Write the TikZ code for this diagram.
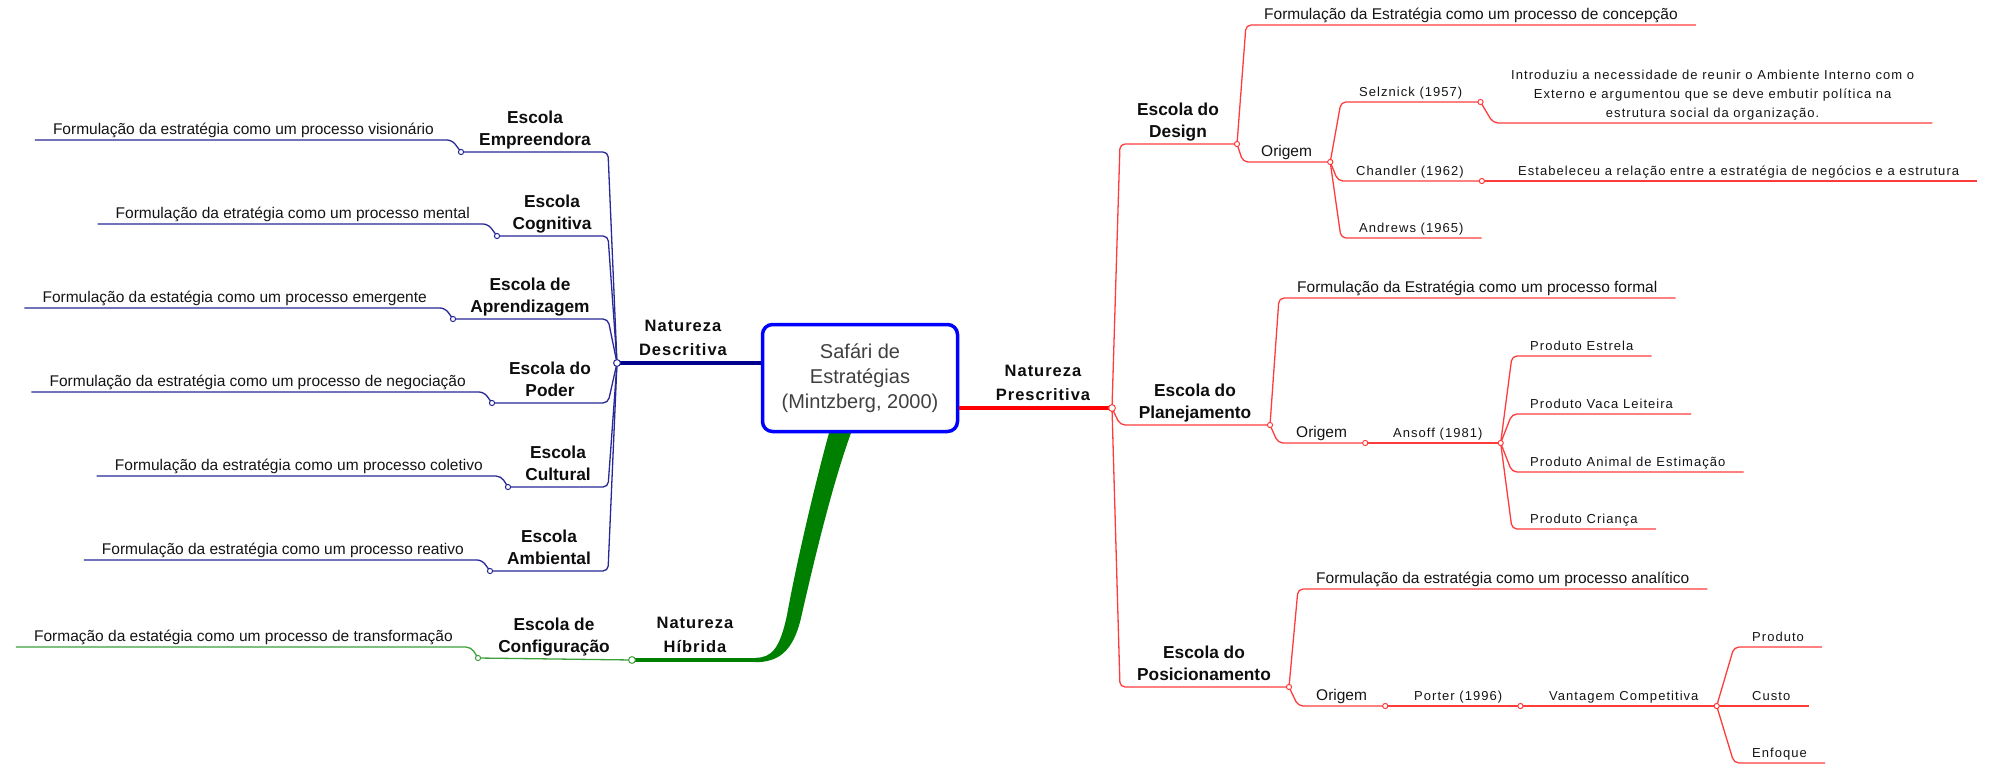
\documentclass[tikz,border=0pt]{standalone}
\usepackage{fontspec}
\setmainfont{Liberation Sans}
\newfontfamily\spacedfont[LetterSpace=8]{Liberation Sans}
\newfontfamily\natfont[LetterSpace=6]{Liberation Sans}
\usetikzlibrary{calc}

\definecolor{bluethin}{RGB}{40,40,150}
\definecolor{bluethick}{RGB}{0,0,140}
\definecolor{boxblue}{RGB}{0,0,255}
\definecolor{redthin}{RGB}{255,60,60}
\definecolor{redthick}{RGB}{255,0,0}
\definecolor{greenthin}{RGB}{60,160,60}
\definecolor{greenthick}{RGB}{0,128,0}
\definecolor{leaftext}{RGB}{20,20,20}
\definecolor{centertext}{RGB}{64,64,64}

\begin{document}
\begin{tikzpicture}[x=1pt,y=-1pt,
  school/.style={font=\fontsize{17.3}{22}\selectfont\bfseries, text=black!95,
    align=center, anchor=south, inner sep=0pt, execute at end node=\strut},
  nature/.style={font=\natfont\fontsize{16.5}{24}\selectfont\bfseries, text=black!95,
    align=center, anchor=south, inner sep=0pt, execute at end node=\strut},
  leaf/.style={font=\fontsize{15.5}{19}\selectfont, text=leaftext,
    inner xsep=18pt, inner ysep=0pt, execute at end node=\strut},
  spaced/.style={font=\spacedfont\fontsize{13}{19}\selectfont, text=leaftext,
    align=center, inner xsep=18pt, inner ysep=0pt, execute at end node=\strut},
  toleft/.style={anchor=south east},
  toright/.style={anchor=south west},
  bl/.style={draw=bluethin, line width=1.3pt, rounded corners=5pt},
  rl/.style={draw=redthin, line width=1.3pt, rounded corners=5pt},
  gl/.style={draw=greenthin, line width=1.3pt, rounded corners=5pt},
  knot/.style={fill=white, line width=1pt},
]
\useasboundingbox (0,0) rectangle (1997,765);

% ---------- central topic ----------
\coordinate (hubD) at (617,363);
\coordinate (hubP) at (1112,408);
\coordinate (hubH) at (632,660);
\coordinate (gEnd) at (757,660);

% tapered green main branch
\fill[greenthick] (829,433) .. controls (816,480) and (797,560) .. (787,615)
  .. controls (780,648) and (772,658) .. (755,657.8) -- (755,662.2)
  .. controls (778,662.2) and (793,652) .. (801,618)
  .. controls (813,565) and (832,485) .. (851,433) -- cycle;
\draw[greenthick, line width=4.5pt] (hubH) -- (gEnd);

\node[draw=boxblue, line width=3.5pt, rounded corners=10pt, fill=white,
  minimum width=195pt, minimum height=107pt, text=centertext, align=center,
  font=\fontsize{20}{25}\selectfont] (root) at (860,378)
  {Safári de\\Estratégias\\(Mintzberg, 2000)};

\draw[bluethick, line width=3.5pt] (hubD) -- (hubD -| root.west);
\draw[redthick, line width=4.5pt] (root.east |- hubP) -- (hubP);

% ---------- Natureza Descritiva ----------
\node[nature] (natD) at (683,363) {Natureza\\Descritiva};

\coordinate (cEmp) at (461,152);  \coordinate (kEmp) at (608,152);
\coordinate (cCog) at (497,236);  \coordinate (kCog) at (608,236);
\coordinate (cApr) at (453,319);  \coordinate (kApr) at (608,319);
\coordinate (cPod) at (492,403);  \coordinate (kPod) at (608,403);
\coordinate (cCul) at (508,487);  \coordinate (kCul) at (608,487);
\coordinate (cAmb) at (490,571);  \coordinate (kAmb) at (608,571);

\node[school] (sEmp) at (535,152) {Escola\\Empreendora};
\node[school] (sCog) at (552,236) {Escola\\Cognitiva};
\node[school] (sApr) at (530,319) {Escola de\\Aprendizagem};
\node[school] (sPod) at (550,403) {Escola do\\Poder};
\node[school] (sCul) at (558,487) {Escola\\Cultural};
\node[school] (sAmb) at (549,571) {Escola\\Ambiental};

\foreach \k/\c in {kEmp/cEmp,kCog/cCog,kApr/cApr,kPod/cPod,kCul/cCul,kAmb/cAmb}
  \draw[bl] (hubD) -- (\k) -- (\c);

\node[leaf,toleft] (lEmp) at (452,140) {Formulação da estratégia como um processo visionário};
\node[leaf,toleft] (lCog) at (488,224) {Formulação da etratégia como um processo mental};
\node[leaf,toleft] (lApr) at (445,308) {Formulação da estatégia como um processo emergente};
\node[leaf,toleft] (lPod) at (484,392) {Formulação da estratégia como um processo de negociação};
\node[leaf,toleft] (lCul) at (501,476) {Formulação da estratégia como um processo coletivo};
\node[leaf,toleft] (lAmb) at (482,560) {Formulação da estratégia como um processo reativo};

\foreach \c/\l in {cEmp/lEmp,cCog/lCog,cApr/lApr,cPod/lPod,cCul/lCul,cAmb/lAmb}
  \draw[bl] (\c) -- (\l.south east) -- (\l.south west);

% ---------- Natureza Híbrida ----------
\node[nature] (natH) at (695,660) {Natureza\\Híbrida};
\coordinate (cConf) at (478,658);
\node[school] (sConf) at (554,659) {Escola de\\Configuração};
\draw[gl] (hubH) -- (cConf);
\node[leaf,toleft] (lConf) at (471,647) {Formação da estatégia como um processo de transformação};
\draw[gl] (cConf) -- (lConf.south east) -- (lConf.south west);

% ---------- Natureza Prescritiva ----------
\node[nature] (natP) at (1043,408) {Natureza\\Prescritiva};

\coordinate (kDsg) at (1120,144);  \coordinate (cDsg) at (1237,144);
\coordinate (kPla) at (1120,425);  \coordinate (cPla) at (1270,425);
\coordinate (kPos) at (1120,687);  \coordinate (cPos) at (1289,687);
\foreach \k/\c in {kDsg/cDsg,kPla/cPla,kPos/cPos}
  \draw[rl] (hubP) -- (\k) -- (\c);

\node[school] (sDsg) at (1178,144) {Escola do\\Design};
\node[school] (sPla) at (1195,425) {Escola do\\Planejamento};
\node[school] (sPos) at (1204,687) {Escola do\\Posicionamento};

% Escola do Design
\node[leaf,toright] (dForm) at (1246,25) {Formulação da Estratégia como um processo de concepção};
\node[leaf,toright] (dOri) at (1243,162) {Origem};
\draw[rl] (cDsg) -- (dForm.south west) -- (dForm.south east);
\draw[rl] (cDsg) -- (dOri.south west) -- (dOri.south east);
\coordinate (cDOri) at (dOri.south east);

\node[spaced,toright] (dSel) at (1341,102) {Selznick (1957)};
\node[spaced,toright] (dCha) at (1338,181) {Chandler (1962)};
\node[spaced,toright] (dAnd) at (1341,238) {Andrews (1965)};
\foreach \n in {dSel,dCha,dAnd}
  \draw[rl] (cDOri) -- (\n.south west) -- (\n.south east);
\coordinate (cSel) at (dSel.south east);
\coordinate (cCha) at (dCha.south east);

\node[spaced,toright] (dSelTxt) at (1493,123)
  {Introduziu a necessidade de reunir o Ambiente Interno com o\\
   Externo e argumentou que se deve embutir política na\\
   estrutura social da organização.};
\node[spaced,toright] (dChaTxt) at (1500,181)
  {Estabeleceu a relação entre a estratégia de negócios e a estrutura};
\draw[rl] (cSel) -- (dSelTxt.south west) -- (dSelTxt.south east);
\draw[rl] (cCha) -- (dChaTxt.south west) -- (dChaTxt.south east);

% Escola do Planejamento
\node[leaf,toright] (pForm) at (1279,298) {Formulação da Estratégia como um processo formal};
\node[leaf,toright] (pOri) at (1278,443) {Origem};
\draw[rl] (cPla) -- (pForm.south west) -- (pForm.south east);
\draw[rl] (cPla) -- (pOri.south west) -- (pOri.south east);
\coordinate (cPOri) at (pOri.south east);

\node[spaced,toright] (pAns) at (1375,443) {Ansoff (1981)};
\draw[rl] (cPOri) -- (pAns.south west) -- (pAns.south east);
\coordinate (cAns) at (pAns.south east);

\node[spaced,toright] (pEst) at (1512,356) {Produto Estrela};
\node[spaced,toright] (pVac) at (1512,414) {Produto Vaca Leiteira};
\node[spaced,toright] (pAni) at (1512,472) {Produto Animal de Estimação};
\node[spaced,toright] (pCri) at (1512,529) {Produto Criança};
\foreach \n in {pEst,pVac,pAni,pCri}
  \draw[rl] (cAns) -- (\n.south west) -- (\n.south east);

% Escola do Posicionamento
\node[leaf,toright] (qForm) at (1298,589) {Formulação da estratégia como um processo analítico};
\node[leaf,toright] (qOri) at (1298,706) {Origem};
\draw[rl] (cPos) -- (qForm.south west) -- (qForm.south east);
\draw[rl] (cPos) -- (qOri.south west) -- (qOri.south east);
\coordinate (cQOri) at (qOri.south east);

\node[spaced,toright] (qPor) at (1396,706) {Porter (1996)};
\draw[rl] (cQOri) -- (qPor.south west) -- (qPor.south east);
\coordinate (cPor) at (qPor.south east);

\node[spaced,toright] (qVan) at (1531,706) {Vantagem Competitiva};
\draw[rl] (cPor) -- (qVan.south west) -- (qVan.south east);
\coordinate (cVan) at (qVan.south east);

\node[spaced,toright] (qPro) at (1734,647) {Produto};
\node[spaced,toright] (qCus) at (1734,706) {Custo};
\node[spaced,toright] (qEnf) at (1734,763) {Enfoque};
\foreach \n in {qPro,qCus,qEnf}
  \draw[rl] (cVan) -- (\n.south west) -- (\n.south east);

% ---------- junction circles ----------
\foreach \c in {cEmp,cCog,cApr,cPod,cCul,cAmb}
  \draw[knot, draw=bluethin] (\c) circle (2.6);
\draw[knot, draw=bluethin] (hubD) circle (3.4);
\draw[knot, draw=greenthin] (cConf) circle (2.6);
\draw[knot, draw=greenthin] (hubH) circle (3.4);
\foreach \c in {cDsg,cPla,cPos,cDOri,cSel,cCha,cPOri,cAns,cQOri,cPor,cVan}
  \draw[knot, draw=redthin] (\c) circle (2.6);
\draw[knot, draw=redthin] (hubP) circle (3.4);
\end{tikzpicture}
\end{document}
